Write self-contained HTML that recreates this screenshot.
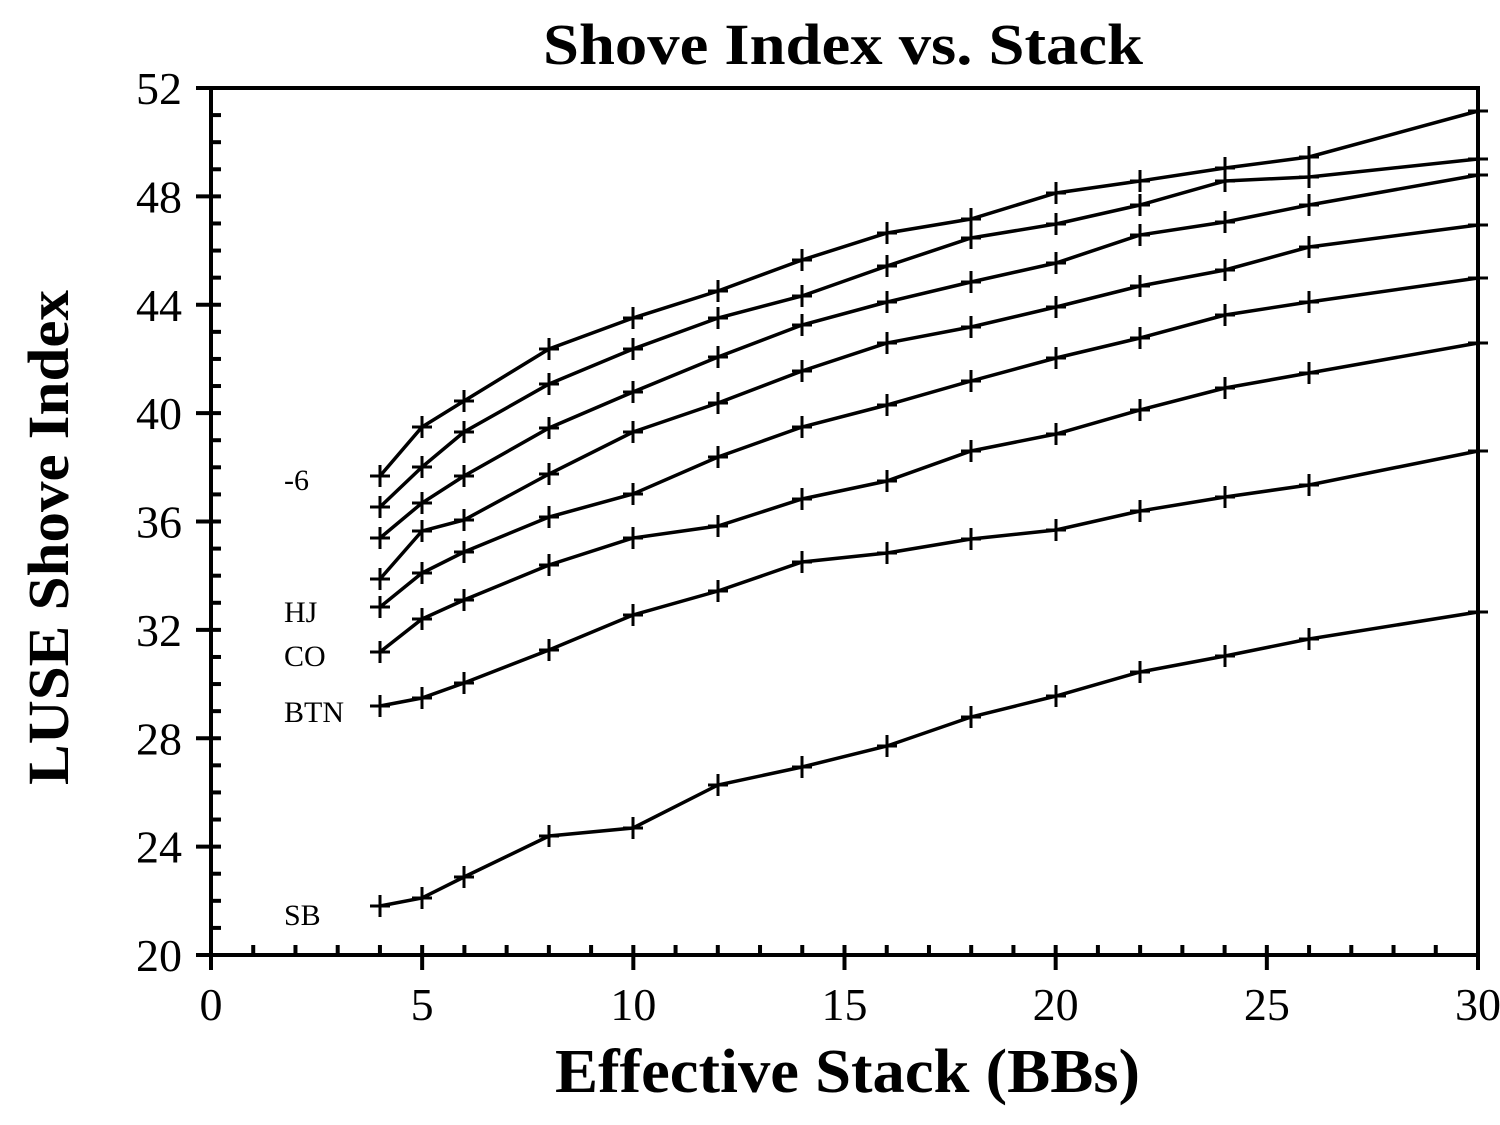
<!DOCTYPE html>
<html><head><style>body{margin:0;background:#fff}svg{display:block}</style></head><body>
<svg width="1500" height="1125" xmlns="http://www.w3.org/2000/svg" font-family="Liberation Serif, serif">
<text x="543" y="64" font-size="58" font-weight="bold" textLength="600" lengthAdjust="spacingAndGlyphs">Shove Index vs. Stack</text>
<text x="555" y="1092" font-size="62" font-weight="bold" textLength="585" lengthAdjust="spacingAndGlyphs">Effective Stack (BBs)</text>
<text transform="translate(68,785) rotate(-90)" font-size="58" font-weight="bold" textLength="495" lengthAdjust="spacingAndGlyphs">LUSE Shove  Index</text>
<g id="ticks" stroke="#000" stroke-width="4"></g>
<rect x="211" y="88" width="1267" height="867" fill="none" stroke="#000" stroke-width="4"/>
<g id="lab" font-size="46"></g>
<g id="series" fill="none" stroke="#000"></g>
<g font-size="30">
<text x="284" y="490">-6</text>
<text x="284" y="622">HJ</text>
<text x="284" y="666">CO</text>
<text x="284" y="722">BTN</text>
<text x="284" y="925">SB</text>
</g>
<script>
const ns="http://www.w3.org/2000/svg";
function el(p,t,a,txt){const e=document.createElementNS(ns,t);for(const k in a)e.setAttribute(k,a[k]);if(txt!=null)e.textContent=txt;p.appendChild(e);return e;}
const X=v=>211+v*1267/30, Y=v=>955-(v-20)*867/32;
const tk=document.getElementById('ticks'), lab=document.getElementById('lab');
for(let i=0;i<=30;i++){const x=X(i);const maj=i%5==0;
 el(tk,'line',{x1:x,x2:x,y1:maj?970:955,y2:945});
 if(maj) el(lab,'text',{x:x,y:1020,'text-anchor':'middle'},i);}
for(let v=20;v<=52;v++){const y=Y(v);const maj=v%4==0;
 el(tk,'line',{x1:maj?196:211,x2:221,y1:y,y2:y});
 if(maj) el(lab,'text',{x:182,y:y+16,'text-anchor':'end'},v);}
const xs=[380,422,464,549,633,718,802,887,971,1056,1140,1225,1309,1478];
const S=[[476,427,401,349,318,291,260,233,219,193,181,168,157,111],
[507,467,432,384,349,318,296,266,238,224,205,181,177,159],
[538,503,476,428,392,357,325,302,282,263,235,222,205,175],
[579,531,520,474,432,403,371,343,327,307,286,270,247,225],
[607,573,552,517,494,457,427,405,381,358,338,315,302,278],
[652,619,600,565,538,526,499,481,451,434,410,388,373,343],
[706,698,683,650,615,591,562,553,539,530,511,497,485,451],
[906,898,877,836,828,785,767,746,717,696,672,656,639,612]];
const g=document.getElementById('series');
S.forEach(s=>{el(g,'polyline',{points:s.map((y,i)=>xs[i]+','+y).join(' '),'stroke-width':3.5});
 s.forEach((y,i)=>{const x=xs[i];el(g,'path',{d:`M${x-10},${y}h20M${x},${y-11}v22`,'stroke-width':3});});});
</script>
</svg>
</body></html>
